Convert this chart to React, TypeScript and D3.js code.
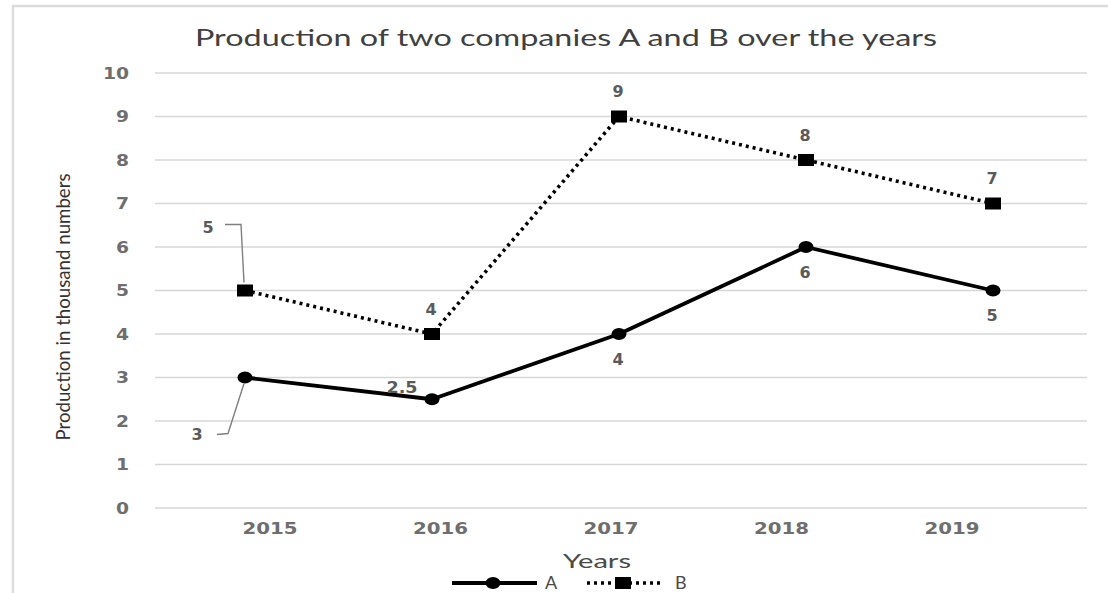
import React from 'react';
import * as d3 from 'd3';

const years = ['2015', '2016', '2017', '2018', '2019'];
const seriesA = [3, 2.5, 4, 6, 5];
const seriesB = [5, 4, 9, 8, 7];
const yTicks = [0, 1, 2, 3, 4, 5, 6, 7, 8, 9, 10];
const labelsA = ['3', '2.5', '4', '6', '5'];
const labelsB = ['5', '4', '9', '8', '7'];
const title = 'Production of two companies A and B over the years';
const yTitle = 'Production in thousand numbers';
const xTitle = 'Years';

// label placement styles (not data)
const placeA = ['calloutBelow', 'upperLeft', 'below', 'below', 'below'];
const placeB = ['calloutAbove', 'above', 'above', 'above', 'above'];

const W = 1108;
const H = 593;

export default function App() {
  const x = d3.scalePoint<string>().domain(years).range([245, 993]);
  const xLab = d3.scalePoint<string>().domain(years).range([270, 952]);
  const y = d3.scaleLinear().domain([0, 10]).range([508, 73]);

  const lineGen = d3
    .line<number>()
    .x((_, i) => x(years[i]) as number)
    .y((d) => y(d));

  const tickColor = '#6e6e6e';
  const labColor = '#5a5a5a';
  const numFont = '"DejaVu Sans", sans-serif';
  const textFont = 'Lato, "Open Sans", sans-serif';

  const renderLabel = (
    txt: string,
    place: string,
    px: number,
    py: number,
    key: string
  ) => {
    const common = {
      fontFamily: numFont,
      fontSize: 16,
      fontWeight: 'bold' as const,
      fill: labColor,
      textAnchor: 'middle' as const,
      dominantBaseline: 'central' as const,
    };
    const tl = txt.length > 1 ? { textLength: 31, lengthAdjust: 'spacingAndGlyphs' } : {};
    if (place === 'above')
      return (
        <text key={key} x={px - 1} y={py - 25} {...common} {...tl}>
          {txt}
        </text>
      );
    if (place === 'below')
      return (
        <text key={key} x={px - 1} y={py + 25} {...common} {...tl}>
          {txt}
        </text>
      );
    if (place === 'upperLeft')
      return (
        <text key={key} x={px - 30} y={py - 12} {...common} {...tl}>
          {txt}
        </text>
      );
    if (place === 'calloutAbove')
      return (
        <g key={key}>
          <path
            d={`M${px - 20},${py - 66} L${px - 4},${py - 66} L${px - 1},${py - 8}`}
            fill="none"
            stroke="#7f7f7f"
            strokeWidth={1.4}
          />
          <text x={px - 37} y={py - 63} {...common}>
            {txt}
          </text>
        </g>
      );
    if (place === 'calloutBelow')
      return (
        <g key={key}>
          <path
            d={`M${px - 28},${py + 57} L${px - 17},${py + 56} L${px - 1},${py + 6}`}
            fill="none"
            stroke="#7f7f7f"
            strokeWidth={1.4}
          />
          <text x={px - 48} y={py + 57} {...common}>
            {txt}
          </text>
        </g>
      );
    return null;
  };

  return (
    <svg
      width={W}
      height={H}
      style={{ position: 'absolute', left: 0, top: 0, background: '#fff' }}
    >
      <rect x={0} y={0} width={W} height={H} fill="#fff" />
      {/* chart area border */}
      <rect x={13} y={6} width={W + 20} height={H + 20} fill="none" stroke="#dcdcdc" strokeWidth={2.5} />

      {/* title */}
      <text
        x={566}
        y={46}
        textAnchor="middle"
        fontFamily={textFont}
        fontSize={24}
        fill="#404040"
        textLength={742}
        lengthAdjust="spacingAndGlyphs"
      >
        {title}
      </text>

      {/* gridlines and y ticks */}
      {yTicks.map((t) => (
        <g key={t}>
          <line x1={155} x2={1087} y1={y(t)} y2={y(t)} stroke="#d6d6d6" strokeWidth={1.7} />
          <text
            x={129}
            y={y(t)}
            textAnchor="end"
            dominantBaseline="central"
            fontFamily={numFont}
            fontSize={16}
            fontWeight="bold"
            fill={tickColor}
            textLength={String(t).length * 13}
            lengthAdjust="spacingAndGlyphs"
          >
            {t}
          </text>
        </g>
      ))}

      {/* x tick labels */}
      {years.map((yr) => (
        <text
          key={yr}
          x={xLab(yr)}
          y={528}
          textAnchor="middle"
          dominantBaseline="central"
          fontFamily={numFont}
          fontSize={16}
          fontWeight="bold"
          fill={tickColor}
          textLength={55}
          lengthAdjust="spacingAndGlyphs"
        >
          {yr}
        </text>
      ))}

      {/* axis titles */}
      <text
        transform={`translate(62,307) rotate(-90)`}
        textAnchor="middle"
        dominantBaseline="central"
        fontFamily={textFont}
        fontSize={19}
        fill="#333"
        textLength={267}
        lengthAdjust="spacingAndGlyphs"
      >
        {yTitle}
      </text>
      <text
        x={597}
        y={560}
        textAnchor="middle"
        dominantBaseline="central"
        fontFamily={textFont}
        fontSize={20}
        fill="#4a4a4a"
        textLength={68}
        lengthAdjust="spacingAndGlyphs"
      >
        {xTitle}
      </text>

      {/* series B dotted */}
      <path d={lineGen(seriesB) || ''} fill="none" stroke="#000" strokeWidth={3.6} strokeDasharray="3 4" />
      {/* series A solid */}
      <path d={lineGen(seriesA) || ''} fill="none" stroke="#000" strokeWidth={3.8} strokeLinejoin="round" />

      {seriesA.map((v, i) => (
        <ellipse key={'a' + i} cx={x(years[i])} cy={y(v)} rx={7.5} ry={6} fill="#000" />
      ))}
      {seriesB.map((v, i) => (
        <rect
          key={'b' + i}
          x={(x(years[i]) as number) - 8}
          y={y(v) - 6}
          width={16}
          height={12}
          fill="#000"
        />
      ))}

      {seriesA.map((v, i) =>
        renderLabel(labelsA[i], placeA[i], x(years[i]) as number, y(v), 'la' + i)
      )}
      {seriesB.map((v, i) =>
        renderLabel(labelsB[i], placeB[i], x(years[i]) as number, y(v), 'lb' + i)
      )}

      {/* legend */}
      <g>
        <line x1={452} x2={537} y1={583} y2={583} stroke="#000" strokeWidth={3.8} />
        <ellipse cx={493} cy={583} rx={7.5} ry={6} fill="#000" />
        <text x={545} y={589} fontFamily={textFont} fontSize={18} fill="#4a4a4a">
          A
        </text>
        <line x1={587} x2={660} y1={583} y2={583} stroke="#000" strokeWidth={3.6} strokeDasharray="3 4" />
        <rect x={615} y={577} width={16} height={12} fill="#000" />
        <text x={675} y={589} fontFamily={textFont} fontSize={18} fill="#4a4a4a">
          B
        </text>
      </g>
    </svg>
  );
}
